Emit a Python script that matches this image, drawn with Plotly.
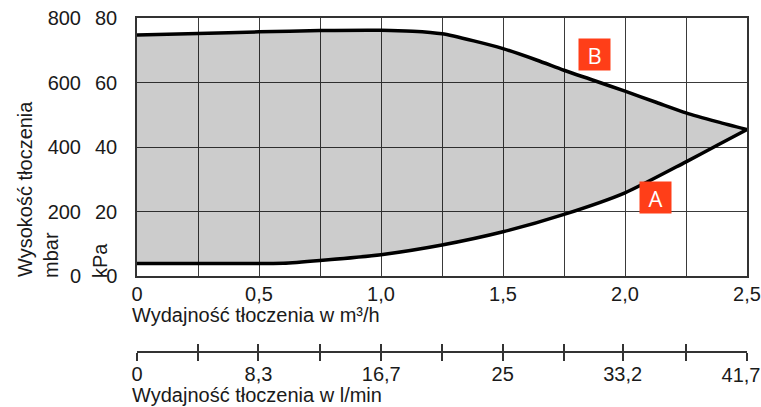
import plotly.graph_objects as go

# Pump curve: delivery head (kPa) vs. flow rate (m³/h)
flow_b = [0, 0.25, 0.5, 0.75, 1.0, 1.13, 1.25, 1.38, 1.5, 1.64, 1.75, 1.87, 2.0, 2.13, 2.25, 2.38, 2.5]
head_b = [74.7, 75.2, 75.7, 76.1, 76.2, 75.9, 75.1, 72.9, 70.5, 66.9, 63.8, 60.7, 57.3, 53.8, 50.6, 47.8, 45.4]

flow_a = [0, 0.25, 0.5, 0.6, 0.75, 1.0, 1.25, 1.5, 1.75, 2.0, 2.25, 2.38, 2.5]
head_a = [3.9, 3.9, 3.9, 3.95, 4.8, 6.6, 9.6, 13.7, 19.1, 25.8, 35.4, 40.6, 45.4]

# Axis ticks
m3h_ticks = [0, 0.5, 1.0, 1.5, 2.0, 2.5]
m3h_labels = ["0", "0,5", "1,0", "1,5", "2,0", "2,5"]
kpa_ticks = [0, 20, 40, 60, 80]
mbar_ticks = [0, 200, 400, 600, 800]
lpm_ticks = [0, 8.3, 16.7, 25, 33.2, 41.7]
lpm_labels = ["0", "8,3", "16,7", "25", "33,2", "41,7"]
lpm_minor = [4.17, 12.5, 20.85, 29.2, 37.5]

# Curve label positions (m³/h, kPa)
label_a = (2.127, 24.4)
label_b = (1.874, 68.6)

W, H = 761, 407
ML, MR, MT, MB = 137, 14, 18, 50
PW = W - ML - MR
PH = H - MT - MB
PLOT_BOTTOM = 276
LPM_AXIS_Y = 352


def px(x):
    return (x - ML) / PW


def py(y):
    return (H - MB - y) / PH


FONT = "Liberation Sans, Arial, sans-serif"
TXT = "#1a1a1a"
GRID = "#3a3a3a"
AXC = "#333"

fig = go.Figure()

fig.add_trace(go.Scatter(
    x=flow_a, y=head_a, mode="lines",
    line=dict(color="black", width=3.5, shape="spline", smoothing=0.7),
    hoverinfo="skip", showlegend=False,
))
fig.add_trace(go.Scatter(
    x=flow_b, y=head_b, mode="lines", fill="tonexty",
    fillcolor="rgba(0,0,0,0.2)",
    line=dict(color="black", width=3.5, shape="spline", smoothing=0.7),
    hoverinfo="skip", showlegend=False,
))
# empty helper traces so the secondary scales (mbar, l/min) are drawn
fig.add_trace(go.Scatter(
    x=[None], y=[mbar_ticks[0]], xaxis="x", yaxis="y2",
    mode="lines", hoverinfo="skip", showlegend=False,
))
for xa in ("x2", "x3", "x4"):
    fig.add_trace(go.Scatter(
        x=[lpm_ticks[0]], y=[None], xaxis=xa, yaxis="y",
        mode="lines", hoverinfo="skip", showlegend=False,
    ))

lpm_common = dict(
    overlaying="x", anchor="free", position=py(LPM_AXIS_Y), side="bottom",
    range=[0, lpm_ticks[-1]], automargin=False, showgrid=False, zeroline=False,
    tickfont=dict(size=20, color=TXT),
)

fig.update_layout(
    width=W, height=H,
    margin=dict(l=ML, r=MR, t=MT, b=MB, pad=0, autoexpand=False),
    paper_bgcolor="white", plot_bgcolor="white",
    font=dict(family=FONT, size=20, color=TXT),
    xaxis=dict(
        domain=[0, 1], range=[0, 2.5], anchor="y", automargin=False,
        tickmode="array", tickvals=m3h_ticks, ticktext=m3h_labels,
        ticks="", showgrid=True, gridcolor=GRID, gridwidth=1,
        minor=dict(dtick=0.25, tick0=0, showgrid=True, gridcolor=GRID, gridwidth=1),
        showline=True, linecolor=AXC, linewidth=1.5, mirror=True,
        zeroline=False, ticklabelstandoff=-1, ticklabeloverflow="allow",
        tickfont=dict(size=20, color=TXT),
    ),
    yaxis=dict(
        domain=[py(PLOT_BOTTOM), 1], range=[0, 80], anchor="x", automargin=False,
        tickmode="array", tickvals=kpa_ticks,
        ticks="", showgrid=True, gridcolor=GRID, gridwidth=1,
        showline=True, linecolor=AXC, linewidth=1.5, mirror=True,
        zeroline=False, ticklabelstandoff=14,
        tickfont=dict(size=20, color=TXT),
    ),
    yaxis2=dict(
        overlaying="y", side="left", anchor="x", range=[0, 800], automargin=False,
        tickmode="array", tickvals=mbar_ticks,
        ticks="", showgrid=False, showline=False, zeroline=False,
        ticklabelstandoff=55, tickfont=dict(size=20, color=TXT),
    ),
    # l/min scale: line, outward ticks and all labels but the last
    xaxis2=dict(
        **lpm_common,
        tickmode="array", tickvals=lpm_ticks[:-1], ticktext=lpm_labels[:-1],
        ticks="outside", ticklen=8, tickwidth=1.5, tickcolor=AXC,
        minor=dict(tickmode="array", tickvals=lpm_minor + lpm_ticks[-1:], ticks="outside",
                   ticklen=8, tickwidth=1.5, tickcolor=AXC),
        showline=True, linecolor=AXC, linewidth=1.5,
        ticklabelstandoff=-4, ticklabeloverflow="allow",
    ),
    # inward half of the crossing ticks
    xaxis3=dict(
        **lpm_common,
        tickmode="array", tickvals=lpm_ticks + lpm_minor,
        ticks="inside", ticklen=8, tickwidth=1.5, tickcolor=AXC,
        showticklabels=False, showline=False,
    ),
    # last label, nudged inward so it stays on the page
    xaxis4=dict(
        **lpm_common,
        tickmode="array", tickvals=lpm_ticks[-1:], ticktext=lpm_labels[-1:],
        ticks="", showline=False, ticklabelstandoff=9, ticklabelshift=-6,
        ticklabeloverflow="allow",
    ),
)

annotations = [
    dict(text="Wysokość tłoczenia", x=px(25), y=py(189), textangle=-90),
    dict(text="mbar", x=px(51), y=py(255), textangle=-90),
    dict(text="kPa", x=px(100), y=py(261), textangle=-90),
    dict(text="Wydajność tłoczenia w m³/h", x=px(130), y=py(315), xanchor="left"),
    dict(text="Wydajność tłoczenia w l/min", x=px(130), y=py(395), xanchor="left"),
]
for a in annotations:
    fig.add_annotation(
        xref="paper", yref="paper", showarrow=False,
        xanchor=a.get("xanchor", "center"), yanchor="middle",
        font=dict(family=FONT, size=20, color=TXT),
        **{k: v for k, v in a.items() if k != "xanchor"},
    )

for name, (lx, ly) in (("A", label_a), ("B", label_b)):
    fig.add_annotation(
        x=lx, y=ly, xref="x", yref="y", text=name, showarrow=False,
        width=31, height=31, borderpad=0, bgcolor="#FF3E18",
        align="center", valign="middle",
        font=dict(family="Open Sans, sans-serif", size=22, color="white"),
    )

fig.write_html("out.html")
